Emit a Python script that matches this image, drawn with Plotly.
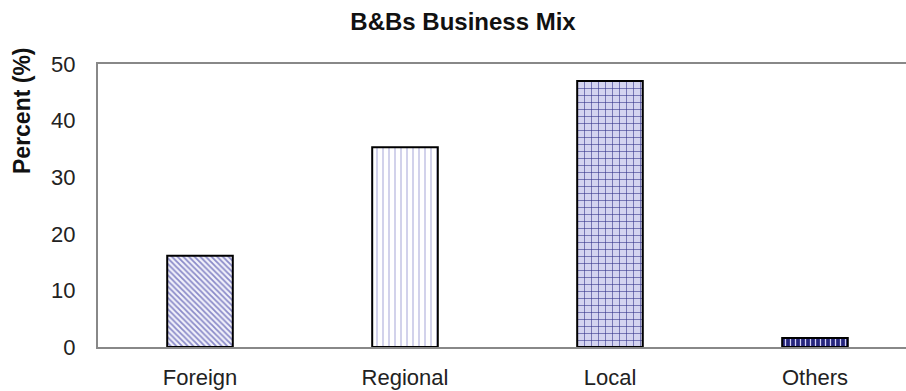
import plotly.graph_objects as go

categories = ["Foreign", "Regional", "Local", "Others"]
values = [16.1, 35.3, 47.0, 1.6]
y_ticks = [0, 10, 20, 30, 40, 50]

shapes = ["\\", "|", "+", "|"]
bgcolors = ["#f2f2fb", "#ffffff", "#d4d4f0", "#24247c"]
fgcolors = ["#8a8ac8", "#b4b4de", "#33338a", "#d0d0f4"]
sizes = [4, 6, 7, 5]
solidities = [0.45, 0.2, 0.16, 0.25]

fig = go.Figure()
for cat, val, shp, bg, fg, sz, sol in zip(categories, values, shapes, bgcolors,
                                          fgcolors, sizes, solidities):
    fig.add_trace(go.Bar(
        x=[cat],
        y=[val],
        width=0.32,
        marker=dict(
            color=bg,
            line=dict(color="#000000", width=2),
            pattern=dict(shape=shp, fgcolor=fg, fgopacity=1,
                         size=sz, solidity=sol, fillmode="overlay"),
        ),
        showlegend=False,
    ))

fig.update_layout(
    barmode="overlay",
    width=906, height=391,
    margin=dict(l=98, r=0, t=64, b=44),
    paper_bgcolor="white", plot_bgcolor="white",
    font=dict(family="Liberation Sans, Arial, sans-serif", color="#222222"),
    title=dict(text="<b>B&Bs Business Mix</b>", xref="container", yref="container",
               x=463/906, y=1 - 22/391, xanchor="center", yanchor="middle",
               font=dict(size=24, color="#111111")),
    xaxis=dict(
        range=[-0.4976, 3.444],
        categoryorder="array", categoryarray=categories,
        showline=True, linecolor="#888888", linewidth=2, mirror=True,
        showgrid=False, ticks="", ticklabelstandoff=10,
        tickfont=dict(size=22, color="#222222"),
    ),
    yaxis=dict(
        range=[0, 50], tickvals=y_ticks,
        showline=True, linecolor="#888888", linewidth=2, mirror=False,
        showgrid=False, zeroline=False, ticks="", ticklabelstandoff=16,
        tickfont=dict(size=22, color="#222222"),
    ),
    annotations=[dict(
        text="<b>Percent (%)</b>", textangle=-90,
        xref="paper", yref="paper",
        x=(22 - 98) / 808, y=1 - (111 - 64) / 283,
        xanchor="center", yanchor="middle", showarrow=False,
        font=dict(size=23, color="#111111"),
    )],
)

fig.write_html("out.html")
